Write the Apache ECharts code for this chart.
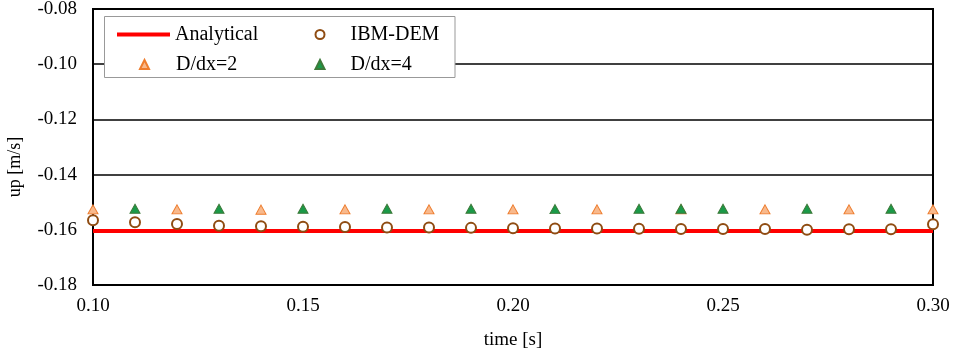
<!DOCTYPE html>
<html>
<head>
<meta charset="utf-8">
<script src="https://cdn.jsdelivr.net/npm/echarts@6/dist/echarts.min.js"></script>
<style>html,body{margin:0;padding:0;background:#fff}#c{width:957px;height:353px}</style>
</head>
<body>
<div id="c"></div>
<script>
// ---- data ----
const analyticalT = [0.10, 0.30];
const analyticalU = [-0.1604, -0.1604];

const ibmT = [0.10,0.11,0.12,0.13,0.14,0.15,0.16,0.17,0.18,0.19,0.20,0.21,0.22,0.23,0.24,0.25,0.26,0.27,0.28,0.29,0.30];
const ibmU = [-0.1565,-0.1573,-0.1579,-0.1585,-0.1587,-0.1589,-0.1590,-0.1592,-0.1592,-0.1593,-0.1594,-0.1595,-0.1595,-0.1596,-0.1597,-0.1597,-0.1597,-0.1600,-0.1598,-0.1598,-0.1580];

const dx2T = [0.10,0.12,0.14,0.16,0.18,0.20,0.22,0.24,0.26,0.28,0.30];
const dx2U = [-0.1526,-0.1526,-0.1527,-0.1526,-0.1526,-0.1526,-0.1526,-0.1526,-0.1526,-0.1526,-0.1526];

const dx4T = [0.11,0.13,0.15,0.17,0.19,0.21,0.23,0.24,0.25,0.27,0.29];
const dx4U = [-0.1524,-0.1524,-0.1524,-0.1524,-0.1524,-0.1525,-0.1524,-0.1524,-0.1524,-0.1524,-0.1524];

const xTicks = {min: 0.10, max: 0.30, interval: 0.05};
const yTicks = {min: -0.18, max: -0.08, interval: 0.02};

const zip = (a, b) => a.map((v, i) => [v, b[i]]);
const FONT = 'Liberation Serif';

const chart = echarts.init(document.getElementById('c'));
const legendBase = {
  orient: 'horizontal', itemGap: 0, padding: 0, selectedMode: false
};
const txt = (padLeft) => ({fontFamily: FONT, fontSize: 20, color: '#000', padding: [0, 0, 0, padLeft]});
chart.setOption({
  animation: false,
  grid: {left: 93, right: 24, top: 9, bottom: 68, outerBoundsMode: 'none', containLabel: false,
    show: true, borderColor: '#000', borderWidth: 2, backgroundColor: 'transparent'},
  xAxis: {
    type: 'value', min: xTicks.min, max: xTicks.max, interval: xTicks.interval,
    name: 'time [s]', nameLocation: 'middle', nameGap: 46,
    nameTextStyle: {fontFamily: FONT, fontSize: 19, color: '#000'},
    axisLine: {show: true, lineStyle: {color: '#000', width: 2}},
    axisTick: {show: false},
    splitLine: {show: false},
    axisLabel: {fontFamily: FONT, fontSize: 19, color: '#000', margin: 12, formatter: v => v.toFixed(2)}
  },
  yAxis: {
    type: 'value', min: yTicks.min, max: yTicks.max, interval: yTicks.interval,
    axisLine: {show: true, lineStyle: {color: '#000', width: 2}},
    axisTick: {show: false},
    splitLine: {show: true, lineStyle: {color: '#000', width: 1.5}},
    axisLabel: {fontFamily: FONT, fontSize: 19, color: '#000', margin: 16, formatter: v => v.toFixed(2)}
  },
  graphic: [
    {type: 'rect', z: 3, shape: {x: 104.5, y: 16.5, width: 350.5, height: 61}, style: {fill: '#fff', stroke: '#999', lineWidth: 1}},
    {type: 'text', z: 3, x: 15, y: 167, rotation: Math.PI / 2,
      style: {text: 'up [m/s]', font: '18px "Liberation Serif"', fill: '#000', align: 'center', verticalAlign: 'middle'}}
  ],
  legend: [
    Object.assign({}, legendBase, {left: 117, top: 24.5, itemWidth: 53, itemHeight: 4, icon: 'rect',
      textStyle: txt(0), data: ['Analytical']}),
    Object.assign({}, legendBase, {left: 314.5, top: 24.5, itemWidth: 9, itemHeight: 9,
      textStyle: txt(21), data: ['IBM-DEM']}),
    Object.assign({}, legendBase, {left: 139, top: 54.5, itemWidth: 9, itemHeight: 9,
      textStyle: txt(22), data: ['D/dx=2']}),
    Object.assign({}, legendBase, {left: 314.5, top: 54.5, itemWidth: 9, itemHeight: 9,
      textStyle: txt(21), data: ['D/dx=4']})
  ],
  series: [
    {name: 'Analytical', type: 'line', data: zip(analyticalT, analyticalU), symbol: 'none', z: 2,
      lineStyle: {color: '#ff0000', width: 4}, itemStyle: {color: '#ff0000'}},
    {name: 'IBM-DEM', type: 'scatter', data: zip(ibmT, ibmU), symbol: 'circle', symbolSize: 10, z: 3,
      itemStyle: {color: '#fff', borderColor: '#8f4c12', borderWidth: 2, opacity: 1}},
    {name: 'D/dx=2', type: 'scatter', data: zip(dx2T, dx2U), symbol: 'triangle', symbolSize: [10, 9], z: 3,
      itemStyle: {color: '#f8b98c', borderColor: '#ee7d2e', borderWidth: 1, opacity: 1}},
    {name: 'D/dx=4', type: 'scatter', data: zip(dx4T, dx4U), symbol: 'triangle', symbolSize: [10, 9], z: 4,
      itemStyle: {color: '#1a9a48', borderColor: '#3d7a3a', borderWidth: 1, opacity: 1}}
  ]
});
</script>
</body>
</html>
